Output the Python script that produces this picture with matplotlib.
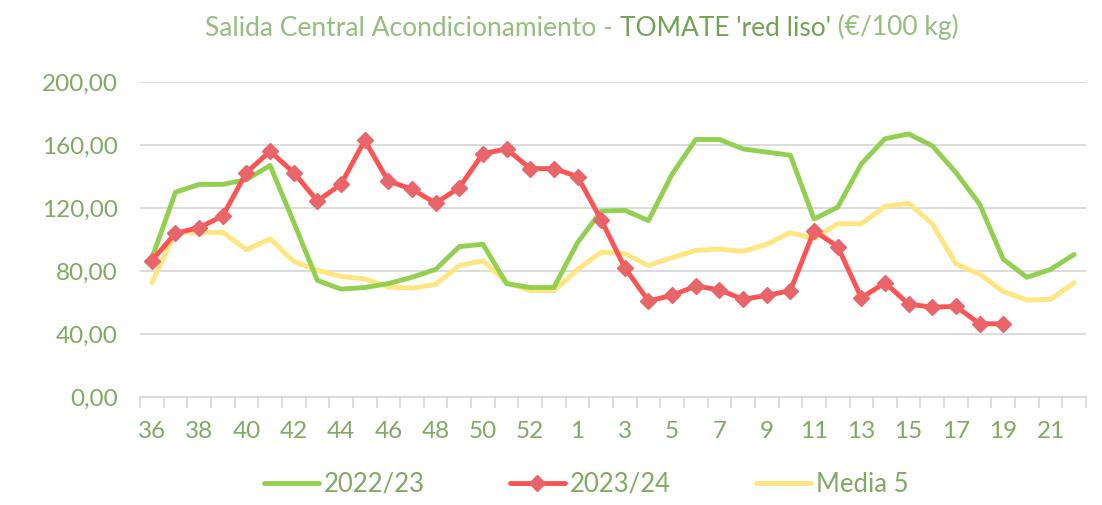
import numpy as np
import matplotlib.pyplot as plt

plt.rcParams['font.family'] = ['Lato', 'DejaVu Sans']

weeks = list(range(36, 54)) + list(range(1, 23))

s2022 = [88, 130, 135, 135, 138, 147, 111, 74, 68.5, 69.5, 72, 76, 81, 95.5, 97,
         72, 69.5, 69.5, 98, 118, 118.5, 112, 141.5, 163.5, 163.5, 157.5, 155.5,
         153.5, 113, 120.5, 148, 164, 167, 159.5, 142.5, 122.5, 87.5, 76, 81, 90.5]

s2023 = [86.5, 104, 107.5, 115, 142.5, 156, 142.5, 124.5, 135, 163, 137, 132,
         123, 133, 154.5, 157.5, 145, 145, 140, 112.5, 82, 61, 64.5, 70.5, 68,
         62, 64.5, 67.5, 105.5, 95.5, 63, 72.5, 59, 57, 57.5, 46.5, 46.5]

media5 = [72.5, 104.5, 104.5, 104.5, 93.5, 100.5, 86, 80.5, 76.5, 75, 70, 69,
          71.5, 83.5, 86.5, 72.5, 67.5, 67.5, 81, 92, 91, 83.5, 88.5, 93, 94,
          92.5, 97, 104.5, 100.5, 110, 110, 121, 123, 110, 84.5, 78, 67, 61.5,
          62, 72.5]

yticks = [0, 40, 80, 120, 160, 200]

label_col = '#7faa60'
grid_col = '#d9d9d9'

fig = plt.figure(figsize=(11.02, 5.05), dpi=100)
ax = fig.add_axes([140 / 1102, 108 / 505, 946 / 1102, 315 / 505])

x = np.arange(len(weeks))
ax.plot(x, s2022, color='#92d050', lw=3.5, label='2022/23', zorder=3,
        solid_joinstyle='round', solid_capstyle='round')
ax.plot(np.arange(len(s2023)), s2023, color='#ff5252', lw=3.5, marker='D',
        ms=8, mfc='#e8656a', mec='#e8656a', label='2023/24', zorder=4,
        solid_joinstyle='round', solid_capstyle='round')
ax.plot(x, media5, color='#ffe680', lw=3.5, label='Media 5', zorder=2,
        solid_joinstyle='round', solid_capstyle='round')

ax.set_xlim(-0.5, len(weeks) - 0.5)
ax.set_ylim(0, 200)
ax.set_yticks(yticks)
ax.set_yticklabels([f'{v:.2f}'.replace('.', ',') for v in yticks])
ax.yaxis.grid(True, color=grid_col, lw=1.3)
ax.set_axisbelow(True)

ax.set_xticks(x[::2])
ax.set_xticklabels([str(w) for w in weeks[::2]])
ax.set_xticks(np.arange(-0.5, len(weeks), 1), minor=True)
ax.tick_params(axis='x', which='major', length=0, pad=17)
ax.tick_params(axis='x', which='minor', length=8, color=grid_col, width=1.3)
ax.tick_params(axis='y', length=0, pad=16)
ax.tick_params(labelsize=17.5, labelcolor=label_col)

for s in ['top', 'right', 'left']:
    ax.spines[s].set_visible(False)
ax.spines['bottom'].set_color(grid_col)
ax.spines['bottom'].set_linewidth(1.3)

leg = fig.legend(loc='center', bbox_to_anchor=(0.532, 1 - 484 / 505), ncol=3,
                 frameon=False, fontsize=18.5, handlelength=2.15,
                 handletextpad=0.2, columnspacing=3.3)
for t in leg.get_texts():
    t.set_color(label_col)

# title in three pieces
tcol = '#93bf7c'
t1 = fig.text(205 / 1102, 1 - 28 / 505, 'Salida Central Acondicionamiento - ',
              fontsize=19, color=tcol, va='center')
t2 = ax.annotate("TOMATE 'red liso'", xy=(1, 0), xycoords=t1, va='bottom',
                 fontsize=19, color='#72a354')
t3 = ax.annotate(' (€/100 kg)', xy=(1, 0), xycoords=t2, va='bottom',
                 fontsize=19, color=tcol)

fig.savefig('out.png', dpi=100)
